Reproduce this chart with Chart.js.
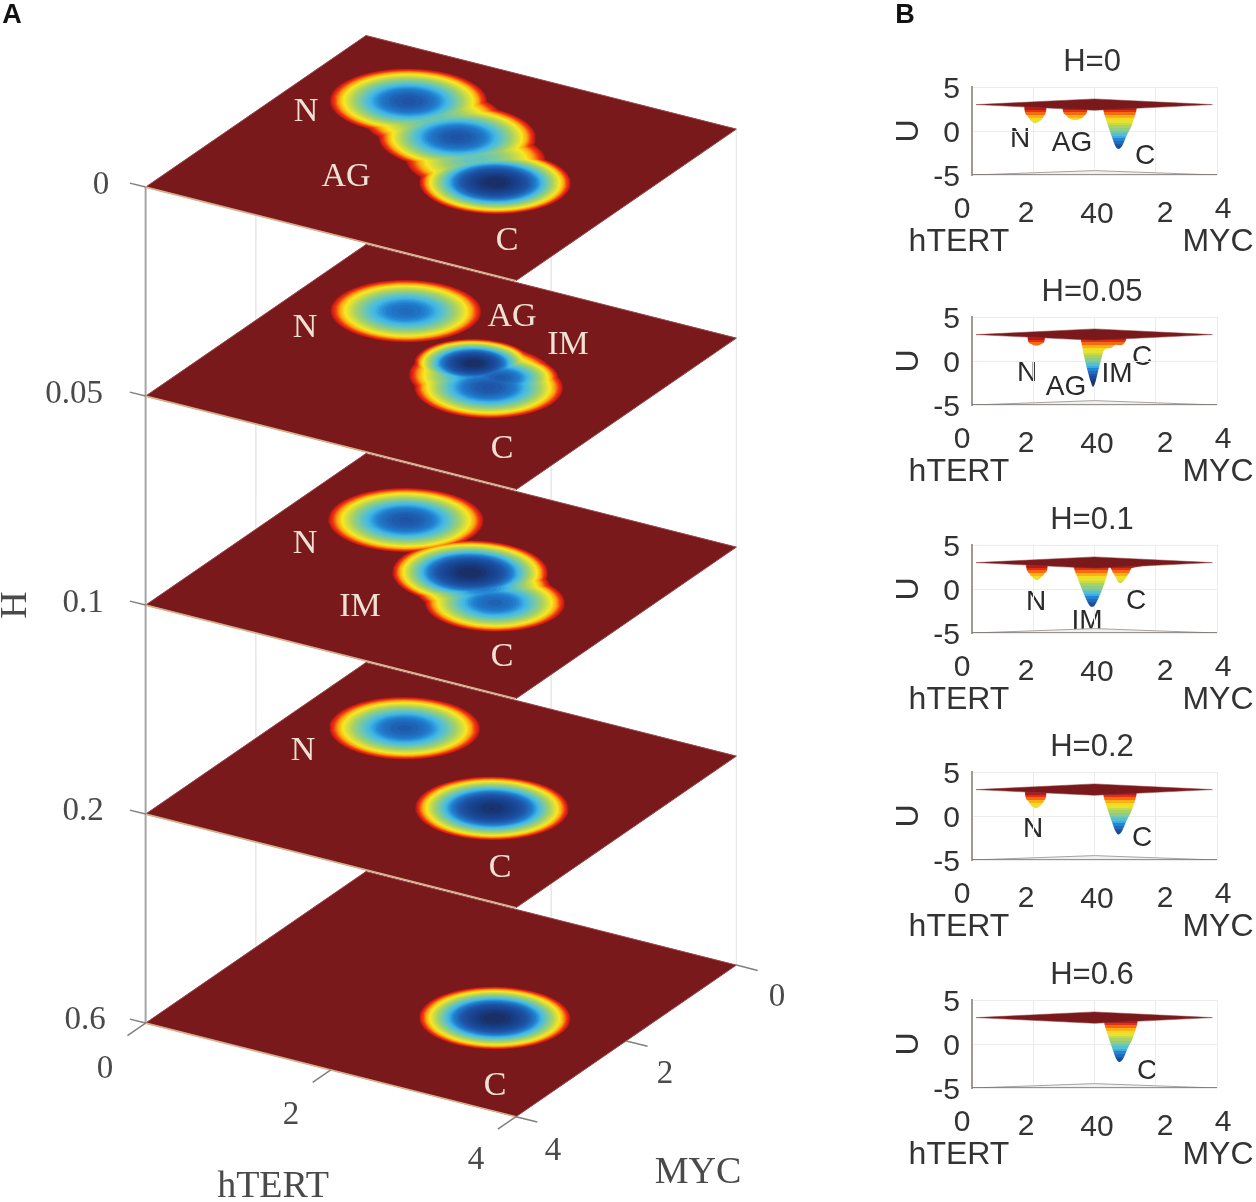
<!DOCTYPE html>
<html>
<head>
<meta charset="utf-8">
<script src="https://cdn.jsdelivr.net/npm/chart.js@4"></script>
<style>
  html, body { margin: 0; padding: 0; background: #fff; }
  canvas { position: absolute; left: 0; top: 0; filter: blur(0.5px); }
</style>
</head>
<body>
<canvas id="chartA" width="1256" height="1202"></canvas>
<script>
////////// data
const levels = ['0', '0.05', '0.1', '0.2', '0.6'];
const gridTicks = [0, 2, 4];

// wells on each plane of panel A, the shallow ones last are the saddles between touching wells
const wellHTERT = [
  [1.09, 1.89, 2.71, 1.49, 2.30],
  [1.08, 2.21, 2.59, 2.61, 2.41],
  [1.08, 2.19, 2.73, 2.46],
  [1.06, 2.67],
  [2.70]
];
const wellMYC = [
  [1.06, 1.52, 2.21, 1.29, 1.87],
  [1.09, 1.77, 1.92, 2.16, 1.96],
  [1.09, 1.79, 2.25, 2.02],
  [1.08, 2.20],
  [2.20]
];
const wellDepth = [
  [0.82, 0.82, 1, 0.56, 0.56],
  [0.76, 1, 0.8, 0.82, 0.72],
  [0.82, 1, 0.78, 0.72],
  [0.8, 0.98],
  [1]
];
const wellRadius = [
  [0.74, 0.74, 0.71, 0.66, 0.66],
  [0.71, 0.55, 0.55, 0.70, 0.68],
  [0.73, 0.73, 0.66, 0.64],
  [0.71, 0.72],
  [0.71]
];

// side profiles of panel B, position runs hTERT 0-4 then MYC 0-4
const profileS = [
  [0, 1.7, 1.72, 1.8, 1.9, 1.98, 2.07, 2.16, 2.26, 2.36, 2.42, 2.44, 2.95, 2.97, 3.05, 3.15, 3.25, 3.37, 3.49, 3.6, 3.7, 3.76, 3.78, 4.27, 4.29, 4.36, 4.45, 4.56, 4.68, 4.78, 4.9, 5.04, 5.2, 5.3, 5.37, 5.4, 8],
  [0, 1.8, 1.83, 1.92, 2.1, 2.28, 2.37, 2.4, 3.53, 3.56, 3.6, 3.66, 3.78, 3.88, 3.95, 4.03, 4.12, 4.22, 4.3, 4.55, 4.68, 4.85, 5.02, 5.08, 8],
  [0, 1.75, 1.78, 1.86, 1.98, 2.12, 2.26, 2.38, 2.46, 2.48, 3.3, 3.33, 3.42, 3.54, 3.68, 3.82, 3.92, 4.02, 4.16, 4.3, 4.4, 4.46, 4.5, 4.58, 4.68, 4.76, 4.85, 4.94, 5.05, 5.15, 5.22, 8],
  [0, 1.72, 1.74, 1.82, 1.92, 2.0, 2.08, 2.17, 2.26, 2.36, 2.42, 2.44, 4.27, 4.29, 4.36, 4.45, 4.56, 4.68, 4.78, 4.9, 5.04, 5.2, 5.3, 5.37, 5.4, 8],
  [0, 4.3, 4.32, 4.39, 4.48, 4.59, 4.71, 4.81, 4.93, 5.07, 5.23, 5.33, 5.4, 5.43, 8]
];
const profileU = [
  [3, 3, 2.3, 1.75, 1.25, 1.0, 0.9, 1.0, 1.25, 1.75, 2.3, 3, 3, 2.3, 1.85, 1.5, 1.32, 1.25, 1.32, 1.5, 1.85, 2.3, 3, 3, 2.4, 1.5, 0.5, -0.6, -1.7, -2.05, -1.7, -0.6, 0.5, 1.5, 2.4, 3, 3],
  [3, 3, 2.3, 1.95, 1.7, 1.95, 2.3, 3, 3, 2.3, 1.6, 0.5, -1.2, -2.4, -2.95, -2.4, -1.1, 0.2, 1.15, 1.5, 1.85, 1.8, 2.3, 3, 3],
  [3, 3, 2.3, 1.8, 1.3, 1.0, 1.3, 1.8, 2.3, 3, 3, 2.4, 1.5, 0.4, -0.8, -1.8, -2.05, -1.8, -0.8, 0.4, 1.5, 2.4, 2.5, 2.0, 1.4, 0.85, 0.68, 0.85, 1.4, 2.0, 2.4, 3],
  [3, 3, 2.3, 1.75, 1.25, 1.0, 0.9, 1.0, 1.25, 1.75, 2.3, 3, 3, 2.4, 1.5, 0.5, -0.6, -1.7, -2.1, -1.7, -0.6, 0.5, 1.5, 2.4, 3, 3],
  [3, 3, 2.4, 1.5, 0.5, -0.6, -1.7, -2.05, -1.7, -0.6, 0.5, 1.5, 2.4, 3, 3]
];
const surfaceS = [0.13, 4, 7.85, 4, 0.13];
const surfaceU = [3, 3.65, 3, 2.35, 3];
const floorS = [0, 4, 8, 4, 0];
const floorU = [-5, -4.5, -5, -5.45, -5];
const uTicks = [-5, 0, 5];

// colours, from the flat floor of the plane down to the deepest point
const jetStops = [0, 0.04, 0.1, 0.18, 0.27, 0.42, 0.52, 0.62, 0.7, 0.8, 0.92, 1];
const jetColors = ['#7a1a1c', '#cf1a18', '#f03510', '#fba510', '#f8e822', '#a8d264', '#74c8aa', '#42b9e8', '#2080d0', '#1f55a8', '#173f88', '#1b2a58'];

const panelTitles = ['H=0', 'H=0.05', 'H=0.1', 'H=0.2', 'H=0.6'];
const panelTops = [40, 270, 498, 725, 953];
const bTickText = ['0', '2', '40', '2', '4'];

// projection of panel A
const origin = { x: 366, y: 35.5 };
const hTERTStep = { x: 92.6, y: 23.4 };
const mycStep = { x: -55.1, y: 37.9 };
const levelStep = 209;

function project(h, m, level) {
  return {
    x: origin.x + h * hTERTStep.x + m * mycStep.x,
    y: origin.y + h * hTERTStep.y + m * mycStep.y + level * levelStep
  };
}

function hexToRgb(hex) {
  return [1, 3, 5].map(i => parseInt(hex.substr(i, 2), 16));
}

function jetAt(t) {
  let i = 0;
  while (i < jetStops.length - 2 && t > jetStops[i + 1]) i++;
  const f = Math.min(1, Math.max(0, (t - jetStops[i]) / (jetStops[i + 1] - jetStops[i])));
  const a = hexToRgb(jetColors[i]);
  const b = hexToRgb(jetColors[i + 1]);
  return 'rgb(' + a.map((v, k) => Math.round(v + (b[k] - v) * f)).join(',') + ')';
}

////////// panel A datasets, pushed in paint order
const panelA = [];

function addPath(points, opts) {
  panelA.push(Object.assign({
    data: points,
    pointRadius: 0,
    borderWidth: 0,
    tension: 0,
    clip: false
  }, opts));
}

// faint verticals behind the planes
[[0, 0], [0, 2], [2, 0], [4, 0]].forEach(([h, m]) => {
  addPath([project(h, m, 0), project(h, m, 4)], { borderColor: '#e8e8e8', borderWidth: 1 });
});
addPath([project(0, 4, 0), project(0, 4, 4)], { borderColor: '#a5a5a5', borderWidth: 2 });

const bandCount = 48;
for (let level = levels.length - 1; level >= 0; level--) {
  const corners = [project(0, 0, level), project(4, 0, level), project(4, 4, level), project(0, 4, level), project(0, 0, level)];
  addPath(corners, { fill: 'shape', backgroundColor: '#7a191c', borderColor: '#96484a', borderWidth: 1 });
  addPath([project(0, 4, level), project(4, 4, level)], { borderColor: '#d8b08c', borderWidth: 1.6 });

  // every band of all wells of a plane together, so touching wells merge
  for (let band = 1; band <= bandCount; band++) {
    const t = band / bandCount;
    wellHTERT[level].forEach((h0, w) => {
      const depth = wellDepth[level][w];
      if (t >= depth) return;
      const r = wellRadius[level][w] * Math.sqrt(1 - t / depth);
      const ring = [];
      for (let a = 0; a <= 48; a++) {
        const angle = a / 48 * 2 * Math.PI;
        ring.push(project(h0 + r * Math.cos(angle), wellMYC[level][w] + r * Math.sin(angle), level));
      }
      addPath(ring, { fill: 'shape', backgroundColor: jetAt(t) });
    });
  }
}

// axis ticks
levels.forEach((name, level) => {
  addPath([project(0, 4, level), project(-0.17, 4, level)], { borderColor: '#808080', borderWidth: 1.5 });
});
gridTicks.forEach(v => {
  addPath([project(v, 4, 4), project(v, 4.33, 4)], { borderColor: '#808080', borderWidth: 1.5 });
  addPath([project(4, v, 4), project(4.23, v, 4)], { borderColor: '#808080', borderWidth: 1.5 });
});

panelA.forEach((d, i) => { d.order = panelA.length - i; });

////////// texts
const serif = '"Liberation Serif", serif';
const sans = '"Liberation Sans", Arial, sans-serif';
const tickStyle = { font: '33px ' + serif, color: '#4a4a4a' };
const axisStyle = { font: '38px ' + serif, color: '#4a4a4a' };
const markStyle = { font: '34px ' + serif, color: '#f0e2d2' };
const bStyle = { font: '30px ' + sans, color: '#333333' };
const bTitleStyle = { font: '31px ' + sans, color: '#333333' };
const bAxisStyle = { font: '32px ' + sans, color: '#333333' };
const bMarkStyle = { font: '28px ' + sans, color: '#2a2a2a' };
const tagStyle = { font: 'bold 27px ' + sans, color: '#111111' };

const texts = [
  ['A', 12, 14, tagStyle], ['B', 905, 14, tagStyle],
  ['0', 101, 183, tickStyle], ['0.05', 74, 392, tickStyle], ['0.1', 83, 601, tickStyle], ['0.2', 83, 809, tickStyle], ['0.6', 85, 1018, tickStyle],
  ['0', 105, 1067, tickStyle], ['2', 291, 1113, tickStyle], ['4', 476, 1158, tickStyle],
  ['0', 777, 995, tickStyle], ['2', 665, 1072, tickStyle], ['4', 553, 1149, tickStyle],
  ['H', 16, 603, axisStyle, -Math.PI / 2], ['hTERT', 273, 1185, axisStyle], ['MYC', 698, 1171, axisStyle],
  ['N', 306, 110, markStyle], ['AG', 346, 175, markStyle], ['C', 507, 239, markStyle],
  ['N', 305, 326, markStyle], ['AG', 512, 315, markStyle], ['IM', 568, 343, markStyle], ['C', 502, 447, markStyle],
  ['N', 305, 542, markStyle], ['IM', 360, 605, markStyle], ['C', 502, 655, markStyle],
  ['N', 303, 749, markStyle], ['C', 500, 866, markStyle],
  ['C', 495, 1084, markStyle],
  ['N', 1020, 137, bMarkStyle], ['AG', 1072, 141, bMarkStyle], ['C', 1145, 154, bMarkStyle],
  ['N', 1027, 371, bMarkStyle], ['AG', 1066, 385, bMarkStyle], ['IM', 1117, 372, bMarkStyle], ['C', 1142, 355, bMarkStyle],
  ['N', 1036, 600, bMarkStyle], ['IM', 1087, 619, bMarkStyle], ['C', 1136, 599, bMarkStyle],
  ['N', 1033, 827, bMarkStyle], ['C', 1142, 836, bMarkStyle],
  ['C', 1147, 1069, bMarkStyle]
];
const bTickX = [962, 1026, 1097, 1165, 1223];
const bTickDy = [168, 172, 173, 172, 168];
panelTops.forEach((top, i) => {
  texts.push([panelTitles[i], 1092, top + 20, bTitleStyle]);
  bTickText.forEach((t, k) => texts.push([t, bTickX[k], top + bTickDy[k], bStyle]));
  texts.push(['hTERT', 959, top + 200, bAxisStyle]);
  texts.push(['MYC', 1218, top + 200, bAxisStyle]);
});

const textPlugin = {
  id: 'pageText',
  afterDatasetsDraw(chart) {
    const ctx = chart.ctx;
    const { x, y } = chart.scales;
    ctx.save();
    ctx.textAlign = 'center';
    ctx.textBaseline = 'middle';
    texts.forEach(([text, px, py, style, rotation]) => {
      ctx.save();
      ctx.translate(x.getPixelForValue(px), y.getPixelForValue(py + 2));
      if (rotation) ctx.rotate(rotation);
      ctx.font = style.font;
      ctx.fillStyle = style.color;
      ctx.fillText(text, 0, 0);
      ctx.restore();
    });
    ctx.restore();
  }
};

new Chart(document.getElementById('chartA'), {
  type: 'line',
  data: { datasets: panelA },
  plugins: [textPlugin],
  options: {
    responsive: false,
    animation: false,
    events: [],
    layout: { padding: 0 },
    plugins: { legend: { display: false }, tooltip: { enabled: false } },
    scales: {
      x: { type: 'linear', min: 0, max: 1256, display: false },
      y: { type: 'linear', min: 0, max: 1202, reverse: true, display: false }
    }
  }
});

////////// panel B, one small chart per H
const uTop = 2.7;
const uBottom = -2.6;

function wellGradient(context) {
  const chart = context.chart;
  if (!chart.chartArea) return '#cf1a18';
  const y = chart.scales.y;
  const g = chart.ctx.createLinearGradient(0, y.getPixelForValue(uTop), 0, y.getPixelForValue(uBottom));
  const steps = 18;
  for (let k = 0; k < steps; k++) {
    const c = jetAt((k + 0.5) / steps);
    g.addColorStop(k / steps, c);
    g.addColorStop((k + 1) / steps, c);
  }
  return g;
}

function zip(xs, ys) {
  return xs.map((x, i) => ({ x: x, y: ys[i] }));
}

panelTops.forEach((top, i) => {
  const canvas = document.createElement('canvas');
  canvas.width = 366;
  canvas.height = 220;
  canvas.style.left = '890px';
  canvas.style.top = top + 'px';
  document.body.appendChild(canvas);

  new Chart(canvas, {
    type: 'line',
    data: {
      datasets: [
        { data: zip(surfaceS, surfaceU), fill: 'shape', backgroundColor: '#7a191c', borderColor: '#8a3a3a', borderWidth: 0.5, pointRadius: 0, order: 1 },
        { data: zip(profileS[i], profileU[i]), fill: { value: 3 }, backgroundColor: wellGradient, borderWidth: 0, pointRadius: 0, cubicInterpolationMode: 'monotone', order: 2 },
        { data: zip([0, 8], [-5, -5]), borderColor: '#77726e', borderWidth: 1.5, pointRadius: 0, order: 3 },
        { data: zip(floorS, floorU), fill: 'shape', backgroundColor: '#f1f1f1', borderColor: '#a8a4a0', borderWidth: 1, pointRadius: 0, order: 4 }
      ]
    },
    options: {
      responsive: false,
      animation: false,
      events: [],
      layout: { padding: { top: 47, right: 39, bottom: 85, left: 0 } },
      plugins: { legend: { display: false }, tooltip: { enabled: false } },
      scales: {
        x: {
          type: 'linear', min: 0, max: 8,
          afterFit(s) { s.height = 0; },
          ticks: { display: false, stepSize: 2 },
          border: { display: false },
          grid: { color: '#ececec', drawTicks: false }
        },
        y: {
          min: -5, max: 5,
          afterBuildTicks(s) { s.ticks = uTicks.map(v => ({ value: v })); },
          afterFit(s) { s.width = 82; },
          title: { display: true, text: 'U', font: { size: 32, family: sans }, color: '#333333', padding: 0 },
          ticks: { font: { size: 30, family: sans }, color: '#333333', padding: 12, labelOffset: 3 },
          border: { color: '#a09a94', width: 2 },
          grid: { color: '#ececec', drawTicks: false }
        }
      }
    }
  });
});
</script>
</body>
</html>
